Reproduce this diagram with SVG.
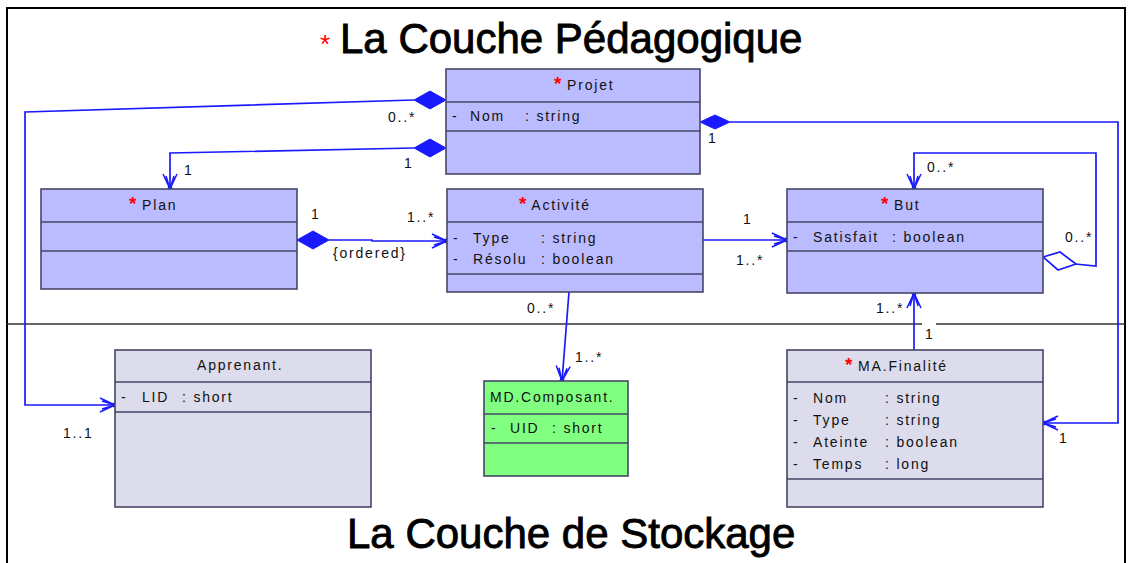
<svg xmlns="http://www.w3.org/2000/svg" width="1128" height="563" viewBox="0 0 1128 563">
<style>
.box{stroke:#464668;stroke-width:1.6}
.ped{fill:#bbbbff}
.sto{fill:#dcdcec}
.grn{fill:#80ff80}
.t{font-family:"Liberation Sans",Arial,sans-serif;font-size:14px;letter-spacing:1.8px;fill:#111}
.star{fill:#ff0000;font-size:19px;font-weight:bold;letter-spacing:0}
.lbl{font-family:"Liberation Sans",Arial,sans-serif;font-size:14px;letter-spacing:1.8px;fill:#111}
.big{font-family:"Liberation Sans",Arial,sans-serif;font-size:42px;fill:#000;stroke:#000;stroke-width:0.9}
.con{fill:none;stroke:#1a1aff;stroke-width:1.7}
.dia{fill:#1a1aff;stroke:#1a1aff;stroke-width:1}
.hdia{fill:#ffffff;stroke:#1a1aff;stroke-width:1.7}
</style>
<defs>
<marker id="arr" viewBox="-18 -10 20 20" refX="0" refY="0" markerWidth="20" markerHeight="20" markerUnits="userSpaceOnUse" orient="auto">
<path d="M-15,-7 L0,0 L-15,7 M-13,-4 L0,0 L-13,4" fill="none" stroke="#1a1aff" stroke-width="1.5"/>
<circle cx="-1" cy="0" r="2.4" fill="#1a1aff"/>
</marker>
</defs>
<rect x="0" y="0" width="1128" height="563" fill="#ffffff"/>
<rect x="7" y="8" width="1118" height="580" fill="none" stroke="#000" stroke-width="2"/>
<line x1="7" y1="324" x2="922" y2="324" stroke="#333" stroke-width="1.6"/>
<line x1="936" y1="324" x2="1125" y2="324" stroke="#333" stroke-width="1.6"/>
<text x="320" y="53" font-family="Liberation Sans, Arial, sans-serif" font-size="26" fill="#ff0000">*</text>
<text x="340" y="53" class="big">La Couche Pédagogique</text>
<text x="347" y="548" class="big">La Couche de Stockage</text>

<g id="connectors">
<path class="con" d="M414,100 L25,112 L25,405 L115,405" marker-end="url(#arr)"/>
<path class="con" d="M414,148 L170,153 L170,189" marker-end="url(#arr)"/>
<path class="con" d="M329,240 L372,240 L372,241 L447,241" marker-end="url(#arr)"/>
<path class="con" d="M703,240 L787,240" marker-end="url(#arr)"/>
<path class="con" d="M1075,264 L1096,266 L1096,153 L914,153 L914,189" marker-end="url(#arr)"/>
<path class="con" d="M730,122 L1118,122 L1118,423 L1043,423" marker-end="url(#arr)"/>
<path class="con" d="M569,292 L562,381" marker-end="url(#arr)"/>
<path class="con" d="M914,350 L914,293" marker-end="url(#arr)"/>
<polygon class="dia" points="446,100 430,91 414,100 430,109"/>
<polygon class="dia" points="446,148 430,139 414,148 430,157"/>
<polygon class="dia" points="297,240 313,231 329,240 313,249"/>
<polygon class="dia" points="700,122 715,115 730,122 715,129"/>
<polygon class="hdia" points="1043,257 1060,252 1076,264 1058,270"/>
<text class="lbl" x="388" y="122">0..*</text>
<text class="lbl" x="63" y="438">1..1</text>
<text class="lbl" x="184" y="175">1</text>
<text class="lbl" x="404" y="168">1</text>
<text class="lbl" x="311" y="219">1</text>
<text class="lbl" x="333" y="258">{ordered}</text>
<text class="lbl" x="407" y="222">1..*</text>
<text class="lbl" x="743" y="224">1</text>
<text class="lbl" x="736" y="265">1..*</text>
<text class="lbl" x="927" y="172">0..*</text>
<text class="lbl" x="1065" y="242">0..*</text>
<text class="lbl" x="708" y="143">1</text>
<text class="lbl" x="1059" y="443">1</text>
<text class="lbl" x="527" y="313">0..*</text>
<text class="lbl" x="575" y="362">1..*</text>
<text class="lbl" x="876" y="313">1..*</text>
<text class="lbl" x="925" y="339">1</text>
</g>

<g id="projet">
<rect class="box ped" x="446" y="69" width="254" height="105"/>
<line class="box" x1="446" y1="102" x2="700" y2="102"/>
<line class="box" x1="446" y1="131" x2="700" y2="131"/>
<text class="t" x="554" y="90"><tspan class="star">*</tspan> Projet</text>
<text class="t" x="452" y="121">-</text>
<text class="t" x="470" y="121">Nom</text>
<text class="t" x="525" y="121">: string</text>
</g>

<g id="plan">
<rect class="box ped" x="41" y="189" width="256" height="100"/>
<line class="box" x1="41" y1="222" x2="297" y2="222"/>
<line class="box" x1="41" y1="251" x2="297" y2="251"/>
<text class="t" x="129" y="210"><tspan class="star">*</tspan> Plan</text>
</g>

<g id="activite">
<rect class="box ped" x="447" y="189" width="256" height="103"/>
<line class="box" x1="447" y1="222" x2="703" y2="222"/>
<line class="box" x1="447" y1="274" x2="703" y2="274"/>
<text class="t" x="519" y="210"><tspan class="star">*</tspan> Activité</text>
<text class="t" x="453" y="243">-</text>
<text class="t" x="473" y="243">Type</text>
<text class="t" x="541" y="243">: string</text>
<text class="t" x="453" y="264">-</text>
<text class="t" x="473" y="264">Résolu</text>
<text class="t" x="541" y="264">: boolean</text>
</g>

<g id="but">
<rect class="box ped" x="787" y="189" width="256" height="104"/>
<line class="box" x1="787" y1="222" x2="1043" y2="222"/>
<line class="box" x1="787" y1="251" x2="1043" y2="251"/>
<text class="t" x="881" y="210"><tspan class="star">*</tspan> But</text>
<text class="t" x="793" y="242">-</text>
<text class="t" x="813" y="242">Satisfait</text>
<text class="t" x="892" y="242">: boolean</text>
</g>

<g id="apprenant">
<rect class="box sto" x="115" y="350" width="256" height="157"/>
<line class="box" x1="115" y1="382" x2="371" y2="382"/>
<line class="box" x1="115" y1="412" x2="371" y2="412"/>
<text class="t" x="197" y="370">Apprenant.</text>
<text class="t" x="121" y="402">-</text>
<text class="t" x="142" y="402">LID</text>
<text class="t" x="182" y="402">: short</text>
</g>

<g id="composant">
<rect class="box grn" x="484" y="381" width="144" height="95"/>
<line class="box" x1="484" y1="414" x2="628" y2="414"/>
<line class="box" x1="484" y1="443" x2="628" y2="443"/>
<text class="t" x="490" y="402">MD.Composant.</text>
<text class="t" x="491" y="433">-</text>
<text class="t" x="510" y="433">UID</text>
<text class="t" x="552" y="433">: short</text>
</g>

<g id="finalite">
<rect class="box sto" x="787" y="350" width="256" height="157"/>
<line class="box" x1="787" y1="382" x2="1043" y2="382"/>
<line class="box" x1="787" y1="479" x2="1043" y2="479"/>
<text class="t" x="845" y="371"><tspan class="star">*</tspan> MA.Finalité</text>
<text class="t" x="793" y="403">-</text>
<text class="t" x="813" y="403">Nom</text>
<text class="t" x="885" y="403">: string</text>
<text class="t" x="793" y="425">-</text>
<text class="t" x="813" y="425">Type</text>
<text class="t" x="885" y="425">: string</text>
<text class="t" x="793" y="447">-</text>
<text class="t" x="813" y="447">Ateinte</text>
<text class="t" x="885" y="447">: boolean</text>
<text class="t" x="793" y="469">-</text>
<text class="t" x="813" y="469">Temps</text>
<text class="t" x="885" y="469">: long</text>
</g>
</svg>
